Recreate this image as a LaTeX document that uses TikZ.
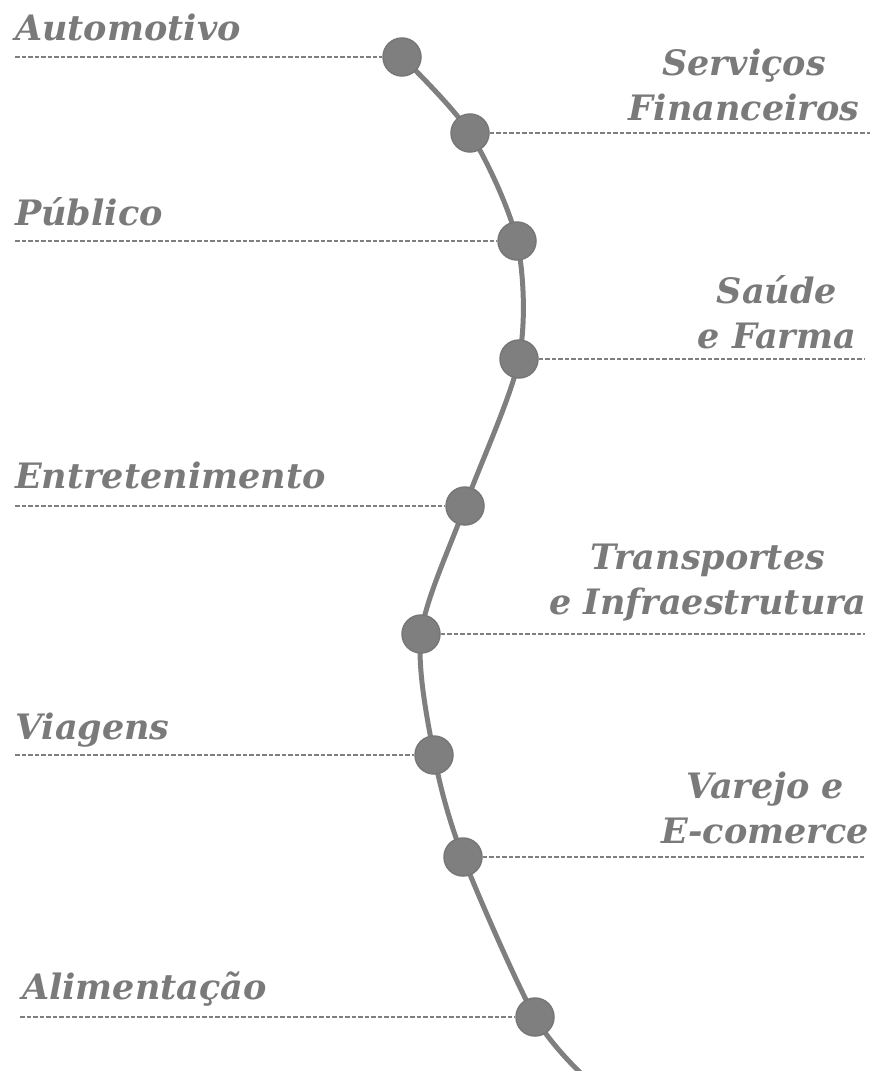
\documentclass[tikz,border=0pt]{standalone}
\usepackage{fontspec}
\setmainfont{DejaVu Serif}
\begin{document}
\begin{tikzpicture}[x=1pt,y=-1pt,
  dotc/.style={circle,fill=dotgray,draw=rimgray,line width=1.5pt,minimum size=38pt,inner sep=0pt},
  lead/.style={draw=dotgray,dash pattern=on 4.5pt off 2pt,line width=1.1pt},
  lbl/.style={text=txtgray,font=\bfseries\itshape\fontsize{35}{45}\selectfont,align=center,inner sep=0pt},
  curve/.style={draw=dotgray,line width=5pt}]
\definecolor{dotgray}{HTML}{7F7F7F}
\definecolor{rimgray}{HTML}{777777}
\definecolor{txtgray}{HTML}{7A7A7A}
\useasboundingbox (0,0) rectangle (874,1071);
% curve
\draw[curve] plot[smooth,tension=0.5] coordinates {(402,57) (470,133) (517,241) (519,359) (465,506) (421,634) (434,755) (463,857) (535,1017) (588,1080)};
% leader end points
\coordinate (l1) at (15,57);
\coordinate (l2) at (870,133);
\coordinate (l3) at (15,241);
\coordinate (l4) at (865,359);
\coordinate (l5) at (15,506);
\coordinate (l6) at (865,634);
\coordinate (l7) at (15,755);
\coordinate (l8) at (865,857);
\coordinate (l9) at (20,1017);
% dots
\node[dotc] (d1) at (402,57) {};
\node[dotc] (d2) at (470,133) {};
\node[dotc] (d3) at (517,241) {};
\node[dotc] (d4) at (519,359) {};
\node[dotc] (d5) at (465,506) {};
\node[dotc] (d6) at (421,634) {};
\node[dotc] (d7) at (434,755) {};
\node[dotc] (d8) at (463,857) {};
\node[dotc] (d9) at (535,1017) {};
\draw[lead] (l1) -- (d1.west);
\draw[lead] (d2.east) -- (l2);
\draw[lead] (l3) -- (d3.west);
\draw[lead] (d4.east) -- (l4);
\draw[lead] (l5) -- (d5.west);
\draw[lead] (d6.east) -- (l6);
\draw[lead] (l7) -- (d7.west);
\draw[lead] (d8.east) -- (l8);
\draw[lead] (l9) -- (d9.west);
% labels
\node[lbl,anchor=base west] (t1) at (15,40) {Automotivo};
\node[lbl] (t2) at (744,85) {Serviços\\Financeiros};
\node[lbl,anchor=base west] (t3) at (15,225) {Público};
\node[lbl] (t4) at (777,312) {Saúde\\e Farma};
\node[lbl,anchor=base west] (t5) at (15,488) {Entretenimento};
\node[lbl] (t6) at (708,583) {Transportes\\e Infraestrutura};
\node[lbl,anchor=base west] (t7) at (15,739) {Viagens};
\node[lbl] (t8) at (765,808) {Varejo e\\E-comerce};
\node[lbl,anchor=base west] (t9) at (22,999) {Alimentação};
\end{tikzpicture}
\end{document}
